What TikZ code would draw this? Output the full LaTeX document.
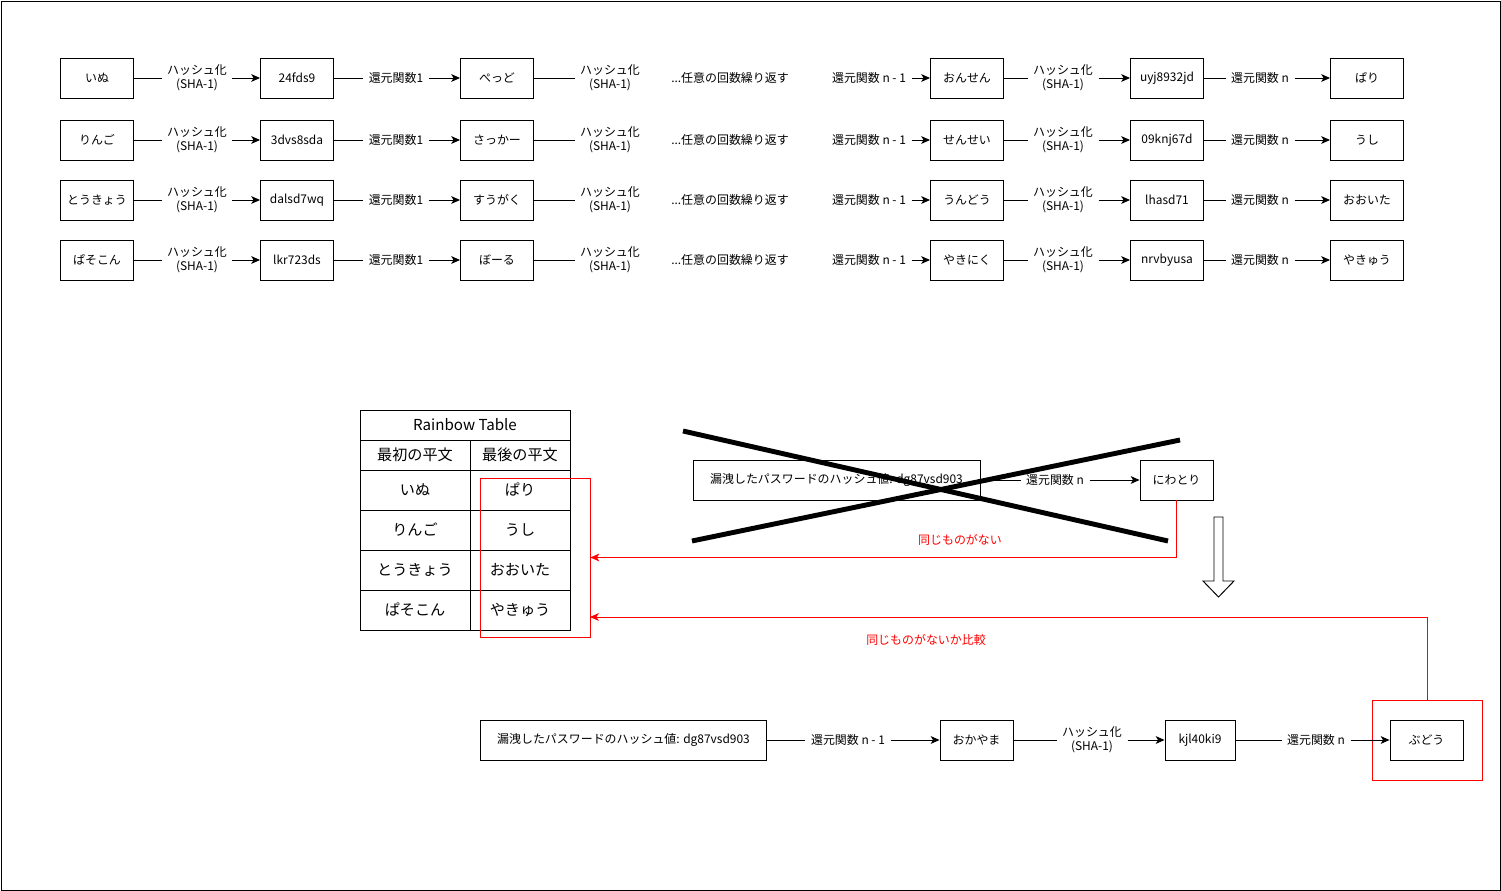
\documentclass[tikz,border=0pt]{standalone}
\usepackage{fontspec}
\newfontfamily\jpfont{Noto Sans CJK JP}
\usetikzlibrary{arrows.meta}

\begin{document}
\begin{tikzpicture}[x=0.02cm,y=-0.02cm]

\tikzstyle{word}=[rectangle, draw=black, line width=0.55pt, minimum width=1.46cm, minimum height=0.8cm, inner sep=0pt, font=\jpfont\fontsize{6.8}{8}\selectfont]
\tikzstyle{lbl}=[align=center, inner sep=3pt, font=\jpfont\fontsize{6.8}{8}\selectfont]
\tikzstyle{cell}=[rectangle, draw=black, line width=0.55pt, minimum width=2.2cm, minimum height=0.8cm, inner sep=0pt, font=\jpfont\fontsize{8.6}{10}\selectfont]
\tikzstyle{plain}=[line width=0.55pt]
\tikzstyle{connect}=[-{Stealth[length=5pt,width=4.4pt,inset=1.3pt]}, line width=0.55pt]
\tikzstyle{redline}=[-{Stealth[length=5pt,width=4.4pt,inset=1.3pt]}, line width=0.55pt, draw=red]
\tikzstyle{cross}=[line width=2.8pt]

\useasboundingbox (0,0) rectangle (1501,891);
\draw[plain] (1,1) rectangle (1500,890);

% chains
\foreach \y/\r/\p/\q/\s/\t/\u/\v in {78/1/いぬ/24fds9/ぺっど/おんせん/uyj8932jd/ぱり,
  140/2/りんご/3dvs8sda/さっかー/せんせい/09knj67d/うし,
  200/3/とうきょう/dalsd7wq/すうがく/うんどう/lhasd71/おおいた,
  260/4/ぱそこん/lkr723ds/ぼーる/やきにく/nrvbyusa/やきゅう}{
  \node[word] (a\r) at (97,\y) {\p};
  \node[lbl] (la\r) at (197,\y) {ハッシュ化\\(SHA-1)};
  \node[word] (h\r) at (297,\y) {\q};
  \node[lbl] (lb\r) at (396,\y) {還元関数1};
  \node[word] (b\r) at (497,\y) {\s};
  \node[lbl] (lc\r) at (610,\y) {ハッシュ化\\(SHA-1)};
  \node[lbl] (rep\r) at (730,\y) {...任意の回数繰り返す};
  \node[lbl] (ld\r) at (869,\y) {還元関数 n - 1};
  \node[word] (c\r) at (967,\y) {\t};
  \node[lbl] (le\r) at (1063,\y) {ハッシュ化\\(SHA-1)};
  \node[word] (g\r) at (1167,\y) {\u};
  \node[lbl] (lf\r) at (1260,\y) {還元関数 n};
  \node[word] (e\r) at (1367,\y) {\v};

  \draw[plain] (a\r) -- (la\r);
  \path (la\r) [connect] edge (h\r);
  \draw[plain] (h\r) -- (lb\r);
  \path (lb\r) [connect] edge (b\r);
  \draw[plain] (b\r) -- (lc\r);
  \path (ld\r) [connect] edge (c\r);
  \draw[plain] (c\r) -- (le\r);
  \path (le\r) [connect] edge (g\r);
  \draw[plain] (g\r) -- (lf\r);
  \path (lf\r) [connect] edge (e\r);
}

% rainbow table
\node[cell, minimum width=4.2cm, minimum height=0.6cm] (title) at (465,425) {Rainbow Table};
\node[cell, minimum height=0.6cm] (first) at (415,455) {最初の平文};
\node[cell, minimum width=2cm, minimum height=0.6cm] (last) at (520,455) {最後の平文};
\foreach \y/\r/\s/\t in {490/1/いぬ/ぱり, 530/2/りんご/うし, 570/3/とうきょう/おおいた, 610/4/ぱそこん/やきゅう}{
  \node[cell] (f\r) at (415,\y) {\s};
  \node[cell, minimum width=2cm] (l\r) at (520,\y) {\t};
}
\node[draw=red, line width=0.55pt, minimum width=2.2cm, minimum height=3.18cm] (match) at (535,557.5) {};

% failed lookup
\node[word, minimum width=5.74cm] (leak1) at (836.5,480) {漏洩したパスワードのハッシュ値: dg87vsd903};
\node[lbl] (ln1) at (1055,480) {還元関数 n};
\node[word] (niwa) at (1176.5,480) {にわとり};
\draw[plain] (leak1) -- (ln1);
\path (ln1) [connect] edge (niwa);
\draw[cross] (683,431) -- (1168,541);
\draw[cross] (692,541) -- (1180,440);

\draw[redline] (niwa.south) |- (match.east);
\node[lbl, text=red] (nomatch) at (960,540) {同じものがない};

\draw[plain] (1214,517) -- (1223,517) -- (1223,581) -- (1234,581) -- (1218.5,597) -- (1203,581) -- (1214,581) -- cycle;

% second lookup
\node[draw=red, line width=0.55pt, minimum width=2.2cm, minimum height=1.6cm] (pick) at (1427,740) {};
\coordinate (cmp) at (590,617);
\draw[redline] (pick.north) |- (cmp);
\node[lbl, text=red] (cmplbl) at (926,640) {同じものがないか比較};

\node[word, minimum width=5.74cm] (leak2) at (623.5,740) {漏洩したパスワードのハッシュ値: dg87vsd903};
\node[lbl] (ln2) at (848,740) {還元関数 n - 1};
\node[word] (oka) at (976.5,740) {おかやま};
\node[lbl] (lh2) at (1092,740) {ハッシュ化\\(SHA-1)};
\node[word, minimum width=1.4cm] (kjl) at (1200,740) {kjl40ki9};
\node[lbl] (ln3) at (1316,740) {還元関数 n};
\node[word] (grape) at (1426.5,740) {ぶどう};

\draw[plain] (leak2) -- (ln2);
\path (ln2) [connect] edge (oka);
\draw[plain] (oka) -- (lh2);
\path (lh2) [connect] edge (kjl);
\draw[plain] (kjl) -- (ln3);
\path (ln3) [connect] edge (grape);

\end{tikzpicture}
\end{document}
